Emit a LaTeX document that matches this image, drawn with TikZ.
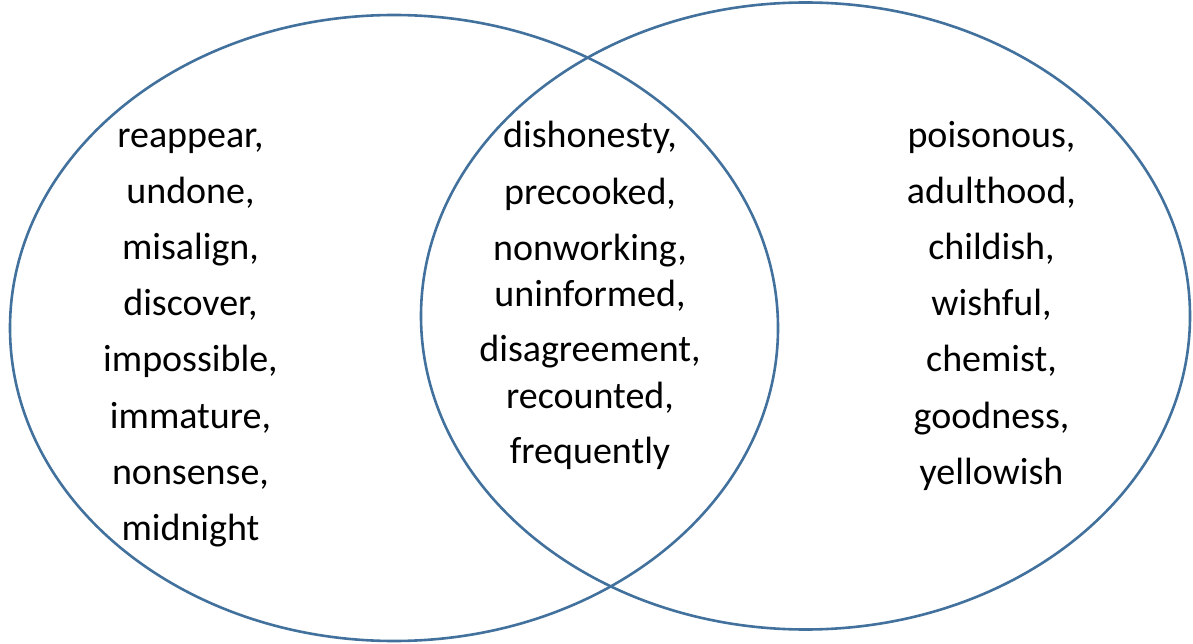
\documentclass[tikz,border=0pt]{standalone}
\usepackage{fontspec}
\setmainfont{Carlito}
\definecolor{vennblue}{RGB}{65,113,156}
\begin{document}
\begin{tikzpicture}[x=1pt,y=1pt,
  venn/.style={draw=vennblue,line width=2.6pt},
  word/.style={anchor=base,inner sep=0pt,font=\fontsize{38}{46}\selectfont,text=black}]
\useasboundingbox (0,0) rectangle (1193,643);
\draw[venn] (394,315) ellipse [x radius=384, y radius=313];
\draw[venn] (805.5,327) ellipse [x radius=384.5, y radius=313.5];
% left column
\foreach \w/\yy [count=\i] in {{reappear,}/148,{undone,}/204,{misalign,}/260,{discover,}/316,{impossible,}/372,{immature,}/428,{nonsense,}/484,{midnight}/540}
  \node[word] (L\i) at (190.5,643-\yy) {\w};
% middle column
\foreach \w/\yy [count=\i] in {{dishonesty,}/148,{precooked,}/205,{nonworking,}/261,{uninformed,}/307,{disagreement,}/362,{recounted,}/408,{frequently}/463}
  \node[word] (M\i) at (590,643-\yy) {\w};
% right column
\foreach \w/\yy [count=\i] in {{poisonous,}/148,{adulthood,}/204,{childish,}/260,{wishful,}/316,{chemist,}/372,{goodness,}/428,{yellowish}/484}
  \node[word] (R\i) at (991.5,643-\yy) {\w};
\end{tikzpicture}
\end{document}
